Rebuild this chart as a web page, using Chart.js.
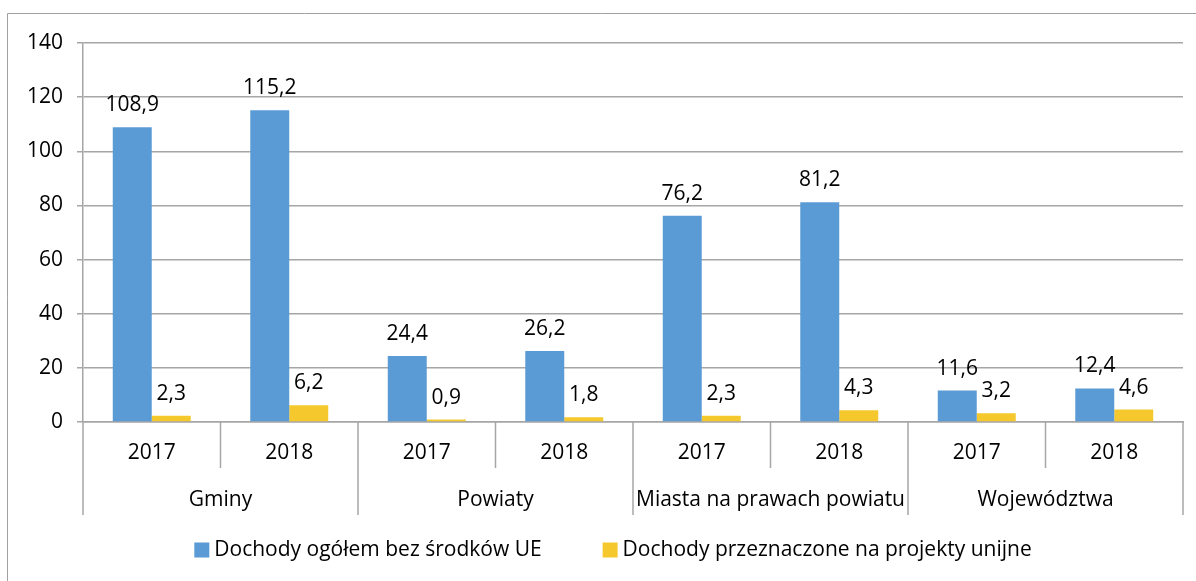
<!DOCTYPE html>
<html>
<head>
<meta charset="utf-8">
<script src="https://cdn.jsdelivr.net/npm/chart.js@4"></script>
<style>
  html, body { margin: 0; padding: 0; background: #fff; }
  #wrap { width: 1196px; height: 581px; position: relative; }
</style>
</head>
<body>
<div id="wrap"><canvas id="chart"></canvas></div>
<script>
// data
const groups = ['Gminy', 'Powiaty', 'Miasta na prawach powiatu', 'Województwa'];
const years = ['2017', '2018'];
const totalNoEU = [108.9, 115.2, 24.4, 26.2, 76.2, 81.2, 11.6, 12.4];
const forEUProjects = [2.3, 6.2, 0.9, 1.8, 2.3, 4.3, 3.2, 4.6];
const yTicks = [0, 20, 40, 60, 80, 100, 120, 140];

const labels = [];
groups.forEach(() => years.forEach(y => labels.push(y)));

const FONT = '"Open Sans", Lato, sans-serif';
const FSIZE = 21;
const GRID = '#a6a6a6';

const fmt = v => v.toFixed(1).replace('.', ',');

// outer frame (top and left edges visible in the reference)
const framePlugin = {
  id: 'frame',
  beforeDraw(chart) {
    const ctx = chart.ctx;
    ctx.save();
    ctx.strokeStyle = '#a0a0a0';
    ctx.lineWidth = 1;
    ctx.beginPath();
    ctx.moveTo(7.5, chart.height);
    ctx.lineTo(7.5, 13.5);
    ctx.lineTo(chart.width, 13.5);
    ctx.stroke();
    ctx.restore();
  }
};

// value labels above bars
const valueLabels = {
  id: 'valueLabels',
  afterDatasetsDraw(chart) {
    const ctx = chart.ctx;
    ctx.save();
    ctx.font = FSIZE + 'px ' + FONT;
    ctx.fillStyle = '#000';
    ctx.textAlign = 'center';
    ctx.textBaseline = 'alphabetic';
    chart.data.datasets.forEach((ds, i) => {
      chart.getDatasetMeta(i).data.forEach((bar, j) => {
        ctx.fillText(fmt(ds.data[j]), bar.x, bar.y - 16);
      });
    });
    ctx.restore();
  }
};

// two-level category axis: separators and group names
const groupAxis = {
  id: 'groupAxis',
  afterDraw(chart) {
    const x = chart.scales.x;
    const ctx = chart.ctx;
    const top = chart.chartArea.bottom;
    const per = years.length;
    const half = (x.getPixelForValue(1) - x.getPixelForValue(0)) / 2;
    ctx.save();
    ctx.strokeStyle = GRID;
    ctx.lineWidth = 1.5;
    for (let i = 0; i <= labels.length; i++) {
      const px = (i < labels.length ? x.getPixelForValue(i) - half : x.getPixelForValue(i - 1) + half);
      const long = i % per === 0;
      ctx.beginPath();
      ctx.moveTo(px, top);
      ctx.lineTo(px, top + (long ? 93 : 46));
      ctx.stroke();
    }
    ctx.font = FSIZE + 'px ' + FONT;
    ctx.fillStyle = '#000';
    ctx.textAlign = 'center';
    ctx.textBaseline = 'middle';
    groups.forEach((g, gi) => {
      const a = x.getPixelForValue(gi * per) - half;
      const b = x.getPixelForValue(gi * per + per - 1) + half;
      ctx.fillText(g, (a + b) / 2, top + 78);
    });
    ctx.restore();
  }
};

// legend drawn by hand to match the tight Excel spacing
const legendPlugin = {
  id: 'bottomLegend',
  afterDraw(chart) {
    const ctx = chart.ctx;
    const ds = chart.data.datasets;
    const box = 15, gapText = 5, gapItem = 61;
    ctx.save();
    ctx.font = FSIZE + 'px ' + FONT;
    ctx.textBaseline = 'middle';
    ctx.textAlign = 'left';
    const widths = ds.map(d => box + gapText + ctx.measureText(d.label).width);
    const total = widths.reduce((a, b) => a + b, 0) + gapItem * (ds.length - 1);
    let x = 613 - total / 2;
    const y = 550;
    ds.forEach((d, i) => {
      ctx.fillStyle = d.backgroundColor;
      ctx.fillRect(x, y - box / 2, box, box);
      ctx.fillStyle = '#000';
      ctx.fillText(d.label, x + box + gapText, y);
      x += widths[i] + gapItem;
    });
    ctx.restore();
  }
};

new Chart(document.getElementById('chart'), {
  type: 'bar',
  data: {
    labels: labels,
    datasets: [
      {
        label: 'Dochody ogółem bez środków UE',
        data: totalNoEU,
        backgroundColor: '#5B9BD5',
        categoryPercentage: 0.567,
        barPercentage: 1
      },
      {
        label: 'Dochody przeznaczone na projekty unijne',
        data: forEUProjects,
        backgroundColor: '#F5C92E',
        categoryPercentage: 0.567,
        barPercentage: 1
      }
    ]
  },
  options: {
    responsive: true,
    maintainAspectRatio: false,
    animation: false,
    layout: { padding: { left: 0, right: 13, top: 43, bottom: 51 } },
    plugins: {
      legend: { display: false },
      tooltip: { enabled: false },
      title: { display: false }
    },
    scales: {
      x: {
        grid: { display: true, drawOnChartArea: false, drawTicks: false },
        border: { display: true, color: GRID, width: 1.5 },
        ticks: { color: '#000', font: { family: FONT, size: FSIZE }, padding: 18 },
        afterFit(scale) { scale.height = 108; }
      },
      y: {
        min: 0,
        max: 140,
        afterBuildTicks(scale) { scale.ticks = yTicks.map(v => ({ value: v })); },
        grid: { color: GRID, lineWidth: 1.5, tickLength: 6 },
        border: { display: true, color: GRID, width: 1.5 },
        ticks: { color: '#000', font: { family: FONT, size: FSIZE }, padding: 14 },
        afterFit(scale) { scale.width = 83; }
      }
    }
  },
  plugins: [framePlugin, valueLabels, groupAxis, legendPlugin]
});
</script>
</body>
</html>
